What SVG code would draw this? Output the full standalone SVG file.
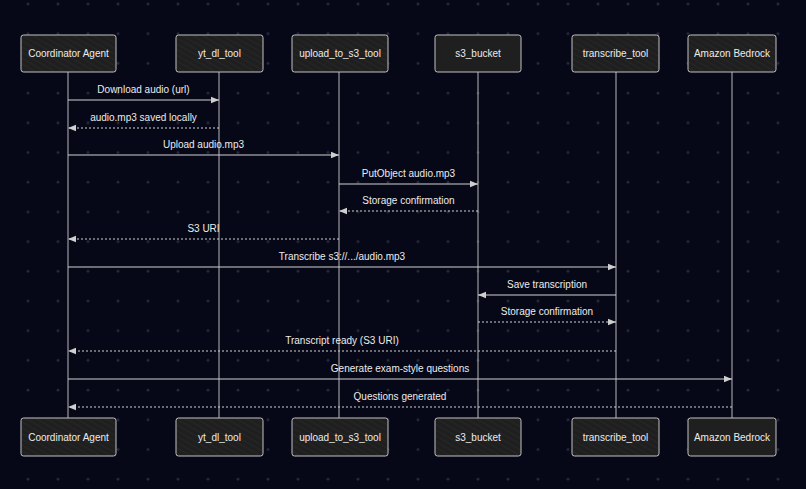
<svg xmlns="http://www.w3.org/2000/svg" width="806" height="489" viewBox="0 0 806 489">
<style>
.bg{fill:#060817}
.box{fill:#1f1f1f;stroke:#c4c4c4;stroke-width:1}
.hatch{fill:url(#hatch)}
.lbl{font-family:"Liberation Sans","DejaVu Sans",sans-serif;font-size:10px;fill:#ececec;text-anchor:middle}
.life{stroke:#b8b8b8;stroke-width:1;fill:none}
.msg{stroke:#d2d2d2;stroke-width:1;fill:none;marker-end:url(#ah)}
.ret{stroke:#d2d2d2;stroke-width:1;fill:none;stroke-dasharray:2 2;marker-end:url(#ah)}
</style>
<defs>
<pattern id="dots" x="13" y="-11" width="30" height="29.7" patternUnits="userSpaceOnUse">
<circle cx="15" cy="15" r="1.4" fill="#262a38"/>
</pattern>
<pattern id="hatch" width="5" height="5" patternUnits="userSpaceOnUse" patternTransform="rotate(-60)">
<line x1="0" y1="0" x2="0" y2="5" stroke="#2e2e2e" stroke-width="1"/>
</pattern>
<marker id="ah" viewBox="0 0 10 10" refX="10" refY="5" markerWidth="8" markerHeight="8" markerUnits="userSpaceOnUse" orient="auto">
<path d="M0,1 L10,5 L0,9 Z" fill="#cfcfcf"/>
</marker>
</defs>
<rect class="bg" x="0" y="0" width="806" height="489"/>
<rect x="0" y="0" width="806" height="489" fill="url(#dots)"/>

<g id="lifelines">
<line class="life" x1="68" y1="72" x2="68" y2="418"/>
<line class="life" x1="219" y1="72" x2="219" y2="418"/>
<line class="life" x1="339" y1="72" x2="339" y2="418"/>
<line class="life" x1="478" y1="72" x2="478" y2="418"/>
<line class="life" x1="616" y1="72" x2="616" y2="418"/>
<line class="life" x1="732" y1="72" x2="732" y2="418"/>
</g>

<g id="connectors">
<line class="msg" x1="68" y1="100" x2="219" y2="100"/>
<text class="lbl" x="143.5" y="93">Download audio (url)</text>
<line class="ret" x1="219" y1="128" x2="68" y2="128"/>
<text class="lbl" x="143.5" y="121">audio.mp3 saved locally</text>
<line class="msg" x1="68" y1="155" x2="339" y2="155"/>
<text class="lbl" x="203.5" y="148">Upload audio.mp3</text>
<line class="msg" x1="339" y1="184" x2="478" y2="184"/>
<text class="lbl" x="408.5" y="177">PutObject audio.mp3</text>
<line class="ret" x1="478" y1="211" x2="339" y2="211"/>
<text class="lbl" x="408.5" y="204">Storage confirmation</text>
<line class="ret" x1="339" y1="239" x2="68" y2="239"/>
<text class="lbl" x="203.5" y="232">S3 URI</text>
<line class="msg" x1="68" y1="267" x2="616" y2="267"/>
<text class="lbl" x="342" y="260">Transcribe s3://.../audio.mp3</text>
<line class="msg" x1="616" y1="295" x2="478" y2="295"/>
<text class="lbl" x="547" y="288">Save transcription</text>
<line class="ret" x1="478" y1="322" x2="616" y2="322"/>
<text class="lbl" x="547" y="315">Storage confirmation</text>
<line class="ret" x1="616" y1="351" x2="68" y2="351"/>
<text class="lbl" x="342" y="344">Transcript ready (S3 URI)</text>
<line class="msg" x1="68" y1="379" x2="732" y2="379"/>
<text class="lbl" x="400" y="372">Generate exam-style questions</text>
<line class="ret" x1="732" y1="407" x2="68" y2="407"/>
<text class="lbl" x="400" y="400">Questions generated</text>
</g>

<g id="coordinator_top"><rect class="box" x="21" y="35" width="95" height="37" rx="2.5"/><rect class="hatch" x="22" y="36" width="93" height="35"/><text class="lbl" x="68.5" y="57">Coordinator Agent</text></g>
<g id="ytdl_top"><rect class="box" x="176" y="35" width="87" height="37" rx="2.5"/><rect class="hatch" x="177" y="36" width="85" height="35"/><text class="lbl" x="219.5" y="57">yt_dl_tool</text></g>
<g id="upload_top"><rect class="box" x="292" y="35" width="96" height="37" rx="2.5"/><rect class="hatch" x="293" y="36" width="94" height="35"/><text class="lbl" x="340" y="57">upload_to_s3_tool</text></g>
<g id="s3_top"><rect class="box" x="435" y="35" width="86" height="37" rx="2.5"/><text class="lbl" x="478" y="57">s3_bucket</text></g>
<g id="transcribe_top"><rect class="box" x="572" y="35" width="87" height="37" rx="2.5"/><rect class="hatch" x="573" y="36" width="85" height="35"/><text class="lbl" x="615.5" y="57">transcribe_tool</text></g>
<g id="bedrock_top"><rect class="box" x="688" y="35" width="88" height="37" rx="2.5"/><rect class="hatch" x="689" y="36" width="86" height="35"/><text class="lbl" x="732" y="57">Amazon Bedrock</text></g>

<g id="coordinator_bottom"><rect class="box" x="21" y="418" width="95" height="38" rx="2.5"/><rect class="hatch" x="22" y="419" width="93" height="36"/><text class="lbl" x="68.5" y="441">Coordinator Agent</text></g>
<g id="ytdl_bottom"><rect class="box" x="176" y="418" width="87" height="38" rx="2.5"/><rect class="hatch" x="177" y="419" width="85" height="36"/><text class="lbl" x="219.5" y="441">yt_dl_tool</text></g>
<g id="upload_bottom"><rect class="box" x="292" y="418" width="96" height="38" rx="2.5"/><rect class="hatch" x="293" y="419" width="94" height="36"/><text class="lbl" x="340" y="441">upload_to_s3_tool</text></g>
<g id="s3_bottom"><rect class="box" x="435" y="418" width="86" height="38" rx="2.5"/><rect class="hatch" x="436" y="419" width="84" height="36"/><text class="lbl" x="478" y="441">s3_bucket</text></g>
<g id="transcribe_bottom"><rect class="box" x="572" y="418" width="87" height="38" rx="2.5"/><rect class="hatch" x="573" y="419" width="85" height="36"/><text class="lbl" x="615.5" y="441">transcribe_tool</text></g>
<g id="bedrock_bottom"><rect class="box" x="688" y="418" width="88" height="38" rx="2.5"/><text class="lbl" x="732" y="441">Amazon Bedrock</text></g>
</svg>
